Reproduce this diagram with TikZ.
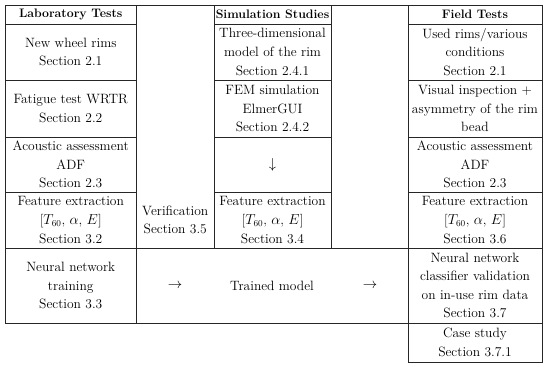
\documentclass[tikz,border=0pt]{standalone}
% one table cell: name, corners, text
\newcommand{\celda}[6]{\node[cell, minimum width={(#4-#2)*1pt}, minimum height={(#5-#3)*1pt}]
    (#1) at ({(#2+#4)/2},{(#3+#5)/2}) {#6};}
\begin{document}
\begin{tikzpicture}[x=1pt, y=-1pt,
    every node/.style={font=\fontsize{13.5}{18.6}\selectfont, align=center},
    cell/.style={draw=black!85, line width=0.9pt, inner sep=0pt},
    head/.style={font=\fontsize{12.3}{14}\selectfont\bfseries}]
    \useasboundingbox (0,0) rectangle (550,367);
    % Laboratory tests
    \celda{lab0}{5}{5}{136.5}{24}{}
    \node[head] (labhead) at (lab0) {Laboratory Tests};
    \celda{lab1}{5}{24}{136.5}{80}{New wheel rims\\Section 2.1}
    \celda{lab2}{5}{80}{136.5}{137}{Fatigue test WRTR\\Section 2.2}
    \celda{lab3}{5}{137}{136.5}{192}{Acoustic assessment\\ADF\\Section 2.3}
    \celda{lab4}{5}{192}{136.5}{248}{Feature extraction\\{[}$T_{60}$, $\alpha$, $E${]}\\Section 3.2}
    \celda{lab5}{5}{248}{136.5}{323}{Neural network\\training\\Section 3.3}
    % Verification column
    \celda{verifcol}{136.5}{5}{214}{248}{}
    \node (verif) at (175.25,220) {Verification\\Section 3.5};
    % Simulation studies
    \celda{sim0}{214}{5}{331}{24}{}
    \node[head] (simhead) at (sim0) {Simulation Studies};
    \celda{sim1}{214}{24}{331}{80}{Three-dimensional\\model of the rim\\Section 2.4.1}
    \celda{sim2}{214}{80}{331}{137}{FEM simulation\\ElmerGUI\\Section 2.4.2}
    \celda{sim3}{214}{137}{331}{192}{$\downarrow$}
    \celda{sim4}{214}{192}{331}{248}{Feature extraction\\{[}$T_{60}$, $\alpha$, $E${]}\\Section 3.4}
    % Empty column
    \celda{gapcol}{331}{5}{408}{248}{}
    % Field tests
    \celda{field0}{408}{5}{542}{24}{}
    \node[head] (fieldhead) at (field0) {Field Tests};
    \celda{field1}{408}{24}{542}{80}{Used rims/various\\conditions\\Section 2.1}
    \celda{field2}{408}{80}{542}{137}{Visual inspection +\\asymmetry of the rim\\bead}
    \celda{field3}{408}{137}{542}{192}{Acoustic assessment\\ADF\\Section 2.3}
    \celda{field4}{408}{192}{542}{248}{Feature extraction\\{[}$T_{60}$, $\alpha$, $E${]}\\Section 3.6}
    \celda{field5}{408}{248}{542}{323}{Neural network\\classifier validation\\on in-use rim data\\Section 3.7}
    \celda{field6}{408}{323}{542}{362}{Case study\\Section 3.7.1}
    % Trained model row
    \celda{modelrow}{136.5}{248}{408}{323}{}
    \node (arrowa) at (175,285.5) {$\rightarrow$};
    \node (trained) at (272,285.5) {Trained model};
    \node (arrowb) at (370,285.5) {$\rightarrow$};
\end{tikzpicture}
\end{document}
